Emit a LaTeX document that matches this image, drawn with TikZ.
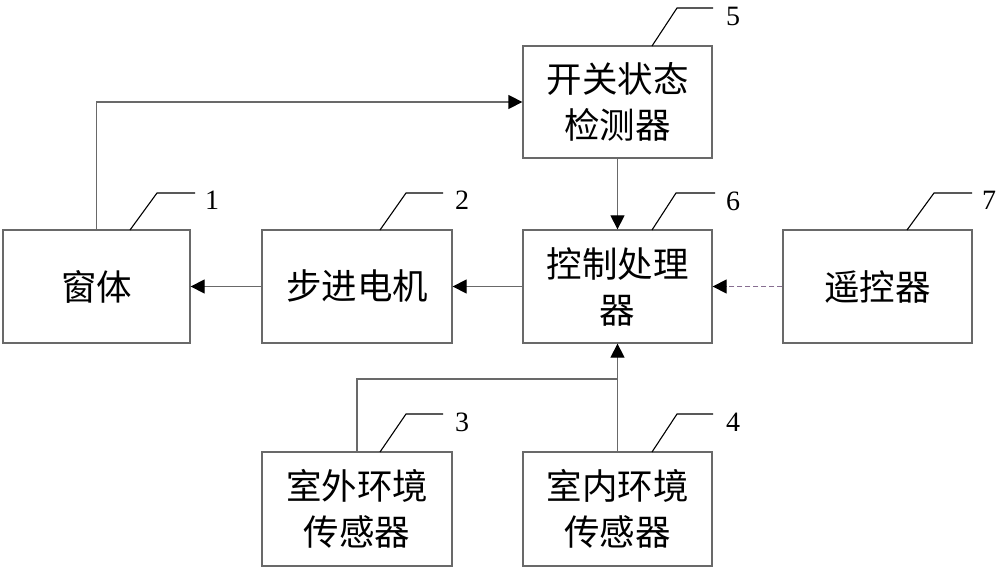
\documentclass[tikz,border=0pt]{standalone}
\usepackage{fontspec}
\newfontfamily\cjk{Noto Sans CJK SC}
\newfontfamily\numf{Liberation Serif}
\usetikzlibrary{arrows.meta}
\definecolor{lc}{RGB}{105,105,105}
\definecolor{dc}{RGB}{135,110,145}
\tikzset{
  blk/.style={draw=lc, line width=1.3pt, fill=white, align=center, inner sep=0pt,
    font=\cjk\fontsize{35.5}{46}\selectfont, text=black},
  conn/.style={draw=lc, line width=1.3pt, -{Triangle[length=14pt,width=14pt,fill=black,color=black]}},
  plain/.style={draw=lc, line width=1.3pt},
  leader/.style={draw=black, line width=1.1pt},
  num/.style={font=\numf\fontsize{28}{28}\selectfont, inner sep=0pt}
}
\begin{document}
\begin{tikzpicture}[x=1pt,y=-1pt]
\useasboundingbox (0,0) rectangle (1000,569);
% boxes
\node[blk, minimum width=187pt, minimum height=113pt] (win) at (96.5,286.5) {窗体};
\node[blk, minimum width=190pt, minimum height=113pt] (motor) at (357,286.5) {步进电机};
\node[blk, minimum width=189pt, minimum height=113pt] (ctrl) at (617.5,286.5) {控制处理\\器};
\node[blk, minimum width=189pt, minimum height=113pt] (remote) at (877.5,286.5) {遥控器};
\node[blk, minimum width=189pt, minimum height=112pt] (sw) at (617.5,102) {开关状态\\检测器};
\node[blk, minimum width=190pt, minimum height=114pt] (out) at (357,509) {室外环境\\传感器};
\node[blk, minimum width=189pt, minimum height=114pt] (in) at (617.5,509) {室内环境\\传感器};
% connectors
\draw[conn] (win.north) |- (sw.west);
\draw[conn] (sw.south) -- (ctrl.north);
\draw[conn] (ctrl.west) -- (motor.east);
\draw[conn] (motor.west) -- (win.east);
\draw[draw=dc, line width=1.3pt, dash pattern=on 5pt off 3pt, -{Triangle[length=14pt,width=14pt,fill=black,color=black]}] (remote.west) -- (ctrl.east);
\coordinate (j) at (617.5,379);
\draw[plain] (out.north) |- (j);
\draw[conn] (in.north) -- (ctrl.south);
% leaders and labels
\coordinate (l1a) at (130,230); \coordinate (l1b) at (157,193); \coordinate (l1c) at (195,193);
\draw[leader] (l1a) -- (l1b) -- (l1c);
\node[num] (n1) at (212,200) {1};
\coordinate (l2a) at (380,230); \coordinate (l2b) at (406,193); \coordinate (l2c) at (443,193);
\draw[leader] (l2a) -- (l2b) -- (l2c);
\node[num] (n2) at (462,200) {2};
\coordinate (l6a) at (652,230); \coordinate (l6b) at (676,193); \coordinate (l6c) at (715,193);
\draw[leader] (l6a) -- (l6b) -- (l6c);
\node[num] (n6) at (733,201) {6};
\coordinate (l7a) at (907,230); \coordinate (l7b) at (934,193); \coordinate (l7c) at (972,193);
\draw[leader] (l7a) -- (l7b) -- (l7c);
\node[num] (n7) at (989,200) {7};
\coordinate (l5a) at (652,46); \coordinate (l5b) at (677,8); \coordinate (l5c) at (713,8);
\draw[leader] (l5a) -- (l5b) -- (l5c);
\node[num] (n5) at (733,16) {5};
\coordinate (l3a) at (380,452); \coordinate (l3b) at (406,414); \coordinate (l3c) at (443,414);
\draw[leader] (l3a) -- (l3b) -- (l3c);
\node[num] (n3) at (462,422) {3};
\coordinate (l4a) at (652,452); \coordinate (l4b) at (677,414); \coordinate (l4c) at (713,414);
\draw[leader] (l4a) -- (l4b) -- (l4c);
\node[num] (n4) at (733,422) {4};
\end{tikzpicture}
\end{document}
